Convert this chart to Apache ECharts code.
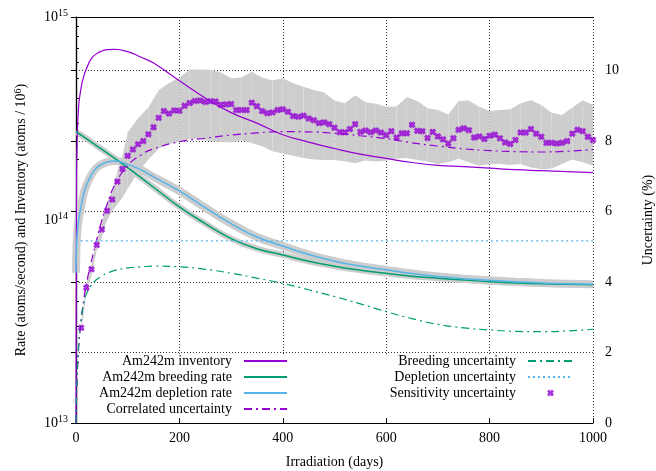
<!DOCTYPE html>
<html>
<head>
<meta charset="utf-8">
<title>Am242m rates, inventory and uncertainty</title>
<script src="https://cdn.jsdelivr.net/npm/echarts@6.0.0/dist/echarts.min.js"></script>
<style>
  html, body { margin: 0; padding: 0; background: #fff; }
  #chart { width: 656px; height: 471px; }
</style>
</head>
<body>
<div id="chart"></div>
<script>
const days = [0, 1, 2, 5, 10, 15, 20, 30, 40, 50, 60, 75, 100, 125, 150,
  200, 250, 300, 350, 400, 450, 500, 550, 600, 650, 700, 750, 800, 850, 900, 950, 1000];

// left axis (log): rates and inventory
const inventory = [1.0e13, 1.6e14, 2.3e14, 3.6e14, 4.5e14, 5.1e14, 5.55e14, 6.25e14, 6.6e14, 6.8e14, 6.9e14, 6.93e14, 6.75e14, 6.35e14, 5.93e14,
  4.85e14, 3.99e14, 3.38e14, 3.0e14, 2.63e14, 2.42e14, 2.25e14, 2.11e14, 2.01e14, 1.92e14, 1.86e14, 1.83e14, 1.80e14, 1.77e14, 1.75e14, 1.73e14, 1.71e14];
const breeding = [2.72e14, 2.71e14, 2.70e14, 2.67e14, 2.62e14, 2.57e14, 2.52e14, 2.42e14, 2.32e14, 2.23e14, 2.14e14, 2.01e14, 1.81e14, 1.62e14, 1.45e14,
  1.16e14, 9.6e13, 8.1e13, 7.22e13, 6.73e13, 6.26e13, 5.92e13, 5.66e13, 5.46e13, 5.29e13, 5.17e13, 5.06e13, 4.97e13, 4.9e13, 4.85e13, 4.82e13, 4.8e13];
const depletion = [5.5e13, 7.3e13, 8.3e13, 1.0e14, 1.17e14, 1.35e14, 1.48e14, 1.67e14, 1.81e14, 1.88e14, 1.93e14, 1.95e14, 1.88e14, 1.77e14, 1.63e14,
  1.39e14, 1.15e14, 9.6e13, 8.25e13, 7.45e13, 6.76e13, 6.27e13, 5.93e13, 5.68e13, 5.45e13, 5.27e13, 5.14e13, 5.05e13, 4.97e13, 4.9e13, 4.85e13, 4.82e13];

// right axis (%): uncertainties
const correlatedUnc = [0, 0.5, 1.1, 2.1, 2.9, 3.5, 3.95, 4.6, 5.2, 5.75, 6.2, 6.75, 7.3, 7.6, 7.78,
  7.98, 8.08, 8.17, 8.23, 8.27, 8.26, 8.22, 8.15, 8.07, 7.95, 7.86, 7.78, 7.73, 7.70, 7.69, 7.71, 7.76];
const breedingUnc = [0, 0.8, 1.3, 2.2, 2.95, 3.4, 3.65, 3.92, 4.07, 4.17, 4.25, 4.33, 4.40, 4.43, 4.45,
  4.43, 4.36, 4.25, 4.11, 3.96, 3.78, 3.59, 3.38, 3.16, 2.96, 2.80, 2.70, 2.64, 2.60, 2.59, 2.61, 2.66];
const depletionUncDays = [0, 1000];
const depletionUnc = [5.17, 5.17];

// sensitivity points, one every 10 days
const sensDays = Array.from({ length: 100 }, (_, i) => 10 * (i + 1));
const sensUnc = [2.70, 3.84, 4.36, 5.05, 5.49, 6.02, 6.34, 6.85, 7.21, 7.58,
  7.76, 7.91, 8.00, 8.19, 8.39, 8.66, 8.85, 8.78, 8.87, 8.86,
  9.00, 9.08, 9.14, 9.15, 9.11, 9.13, 9.12, 9.03, 9.04, 9.05,
  8.88, 8.88, 8.88, 9.09, 8.99, 8.85, 8.79, 8.81, 8.88, 8.90,
  8.83, 8.71, 8.69, 8.72, 8.64, 8.59, 8.51, 8.53, 8.48, 8.38,
  8.25, 8.25, 8.34, 8.48, 8.26, 8.30, 8.25, 8.30, 8.24, 8.17,
  8.28, 8.10, 8.22, 8.22, 8.46, 8.29, 8.28, 8.09, 8.26, 8.13,
  8.05, 7.93, 8.08, 8.32, 8.36, 8.31, 8.10, 8.13, 8.06, 8.15,
  8.18, 8.08, 7.96, 7.92, 8.03, 8.24, 8.24, 8.34, 8.21, 8.12,
  7.95, 7.95, 7.93, 7.95, 8.00, 8.21, 8.32, 8.28, 8.12, 8.03];

// grey envelope around the sensitivity points
const bandDays = [10, 20, 30, 40, 50, 60, 70, 80, 90, 100,
  120, 140, 160, 180, 200, 220, 240, 260, 280, 300, 320, 340, 360, 380, 400,
  420, 440, 460, 480, 500, 520, 540, 560, 580, 600, 620, 640, 660, 680, 700,
  720, 740, 760, 780, 800, 820, 840, 860, 880, 900, 920, 940, 960, 980, 1000];
const bandHigh = [2.82, 3.97, 4.5, 5.2, 5.68, 6.25, 6.6, 7.15, 7.6, 8.25,
  8.65, 8.95, 9.45, 9.65, 9.8, 10.03, 10.03, 10.02, 9.95, 9.78, 9.8, 9.97, 9.8, 9.72, 9.78,
  9.64, 9.54, 9.45, 9.38, 9.15, 9.07, 9.3, 9.1, 9.06, 8.97, 8.98, 9.25, 9.14, 8.93, 8.88,
  8.75, 9.14, 9.15, 8.97, 8.85, 8.88, 8.9, 9.07, 9.16, 9.02, 8.8, 8.74, 8.95, 9.16, 9.02];
const bandLow = [2.58, 3.7, 4.2, 4.88, 5.28, 5.75, 6.02, 6.2, 6.4, 6.65,
  7.12, 7.48, 7.78, 7.92, 7.98, 8.05, 8.05, 8.0, 7.98, 7.96, 8.02, 7.94, 7.85, 7.71, 7.65,
  7.58, 7.52, 7.48, 7.46, 7.46, 7.43, 7.37, 7.45, 7.42, 7.44, 7.5, 7.52, 7.46, 7.42, 7.35,
  7.4, 7.5, 7.4, 7.3, 7.35, 7.35, 7.32, 7.35, 7.25, 7.2, 7.22, 7.35, 7.48, 7.4, 7.3];

// minor ticks of the log axis
const minorTicks = [2e13, 3e13, 4e13, 5e13, 6e13, 7e13, 8e13, 9e13,
  2e14, 3e14, 4e14, 5e14, 6e14, 7e14, 8e14, 9e14];

const font = 'Liberation Serif';
const purple = '#9400d3';
const green = '#009e73';
const blue = '#56b4e9';
const grey = '#cdcdcd';
const crossPath = 'path://M0,3 L3,0 L5,2 L7,0 L10,3 L8,5 L10,7 L7,10 L5,8 L3,10 L0,7 L2,5 Z';
const smoothness = 0.5;

function pairs(xs, ys) {
  return xs.map((x, i) => [x, ys[i]]);
}

const chart = echarts.init(document.getElementById('chart'));

function lineSeries(name, ys, color, width, dash, yAxisIndex, xs) {
  return {
    name: name,
    type: 'line',
    yAxisIndex: yAxisIndex,
    data: pairs(xs || days, ys),
    showSymbol: false,
    smooth: smoothness,
    itemStyle: { color: color },
    lineStyle: { color: color, width: width, type: dash || 'solid' },
    z: 3
  };
}

// legend entries for lines: no marker in the sample
function lineKey(name) {
  return { name: name, itemStyle: { opacity: 0 } };
}

const axisLine = { show: true, lineStyle: { color: '#000', width: 1.2 } };
const gridLine = { show: true, lineStyle: { color: '#000', width: 0.8, type: [1, 2] } };
const labelStyle = { fontFamily: font, fontSize: 14, color: '#000' };
const keyText = Object.assign({ lineHeight: 16, padding: [0, 7, 0, 0] }, labelStyle);

chart.setOption({
  animation: false,
  textStyle: { fontFamily: font, color: '#000' },
  grid: { left: 76, right: 63, top: 17, bottom: 48, containLabel: false, outerBoundsMode: 'none' },
  xAxis: [
    {
      type: 'value', min: 0, max: 1000, interval: 200, position: 'bottom',
      name: 'Irradiation (days)', nameLocation: 'middle', nameGap: 32, nameMoveOverlap: false,
      nameTextStyle: labelStyle,
      axisLine: axisLine,
      axisTick: { inside: true, length: 5, lineStyle: { color: '#000' } },
      axisLabel: Object.assign({ margin: 8, formatter: v => String(v) }, labelStyle),
      splitLine: gridLine
    },
    {
      type: 'value', min: 0, max: 1000, position: 'top',
      axisLine: axisLine, axisTick: { show: false }, axisLabel: { show: false }, splitLine: { show: false }
    }
  ],
  yAxis: [
    {
      type: 'log', logBase: 10, min: 1e13, max: 1e15, position: 'left',
      name: 'Rate (atoms/second) and Inventory (atoms / 10{sup|6})',
      nameLocation: 'middle', nameRotate: 90, nameGap: 46, nameMoveOverlap: false,
      nameTextStyle: Object.assign({
        rich: { sup: { fontFamily: font, fontSize: 10, color: '#000', padding: [0, 0, 7, 0] } }
      }, labelStyle),
      axisLine: axisLine,
      axisTick: { inside: true, length: 6, lineStyle: { color: '#000' } },
      axisLabel: Object.assign({
        margin: 8,
        formatter: v => '10{sup|' + Math.round(Math.log10(v)) + '}',
        rich: { sup: { fontFamily: font, fontSize: 10, color: '#000', padding: [0, 0, 7, 0] } }
      }, labelStyle),
      splitLine: { show: false }
    },
    {
      type: 'value', min: 0, max: 11.52, interval: 2, position: 'right',
      name: 'Uncertainty (%)', nameLocation: 'middle', nameRotate: 90, nameGap: 48, nameMoveOverlap: false,
      nameTextStyle: labelStyle,
      axisLine: axisLine,
      axisTick: { inside: true, length: 5, lineStyle: { color: '#000' } },
      axisLabel: Object.assign({
        margin: 12,
        formatter: v => (v % 2 === 0 && v <= 10 ? String(v) : '')
      }, labelStyle),
      splitLine: gridLine
    },
    {
      // carries only the minor ticks of the log axis
      type: 'value', min: 13, max: 15, position: 'left',
      axisLine: { show: false },
      axisLabel: { show: false },
      splitLine: { show: false },
      axisTick: { show: true, inside: true, length: 3, lineStyle: { color: '#000' },
        customValues: minorTicks.map(Math.log10) }
    }
  ],
  // opaque key background, as in the original plot
  graphic: [{
    type: 'rect', z: 4, silent: true,
    shape: { x: 81, y: 354, width: 511, height: 63 },
    style: { fill: '#fff' }
  }],
  legend: [
    {
      data: ['Am242m inventory', 'Am242m breeding rate', 'Am242m depletion rate', 'Correlated uncertainty'].map(lineKey),
      orient: 'vertical', align: 'right', right: 368, top: 353, padding: 0, z: 5,
      itemGap: 0, itemWidth: 43, itemHeight: 8, selectedMode: false,
      textStyle: keyText
    },
    {
      data: [lineKey('Breeding uncertainty'), lineKey('Depletion uncertainty'), 'Sensitivity uncertainty'],
      orient: 'vertical', align: 'right', right: 82, top: 353, padding: 0, z: 5,
      itemGap: 0, itemWidth: 45, itemHeight: 7, selectedMode: false,
      textStyle: keyText
    }
  ],
  series: [
    {
      type: 'custom',
      yAxisIndex: 1,
      silent: true,
      z: 1,
      data: bandDays.map((d, i) => [d, bandLow[i], bandHigh[i]]),
      encode: { x: 0, y: [1, 2] },
      renderItem: function (params, api) {
        const i = params.dataIndexInside;
        if (i >= params.dataInsideLength - 1) return null;
        const lo0 = api.coord([api.value(0, i), api.value(1, i)]);
        const hi0 = api.coord([api.value(0, i), api.value(2, i)]);
        const lo1 = api.coord([api.value(0, i + 1), api.value(1, i + 1)]);
        const hi1 = api.coord([api.value(0, i + 1), api.value(2, i + 1)]);
        return {
          type: 'polygon',
          shape: { points: [lo0, lo1, hi1, hi0] },
          style: { fill: grey }
        };
      }
    },
    // grey halos behind the two rates
    {
      type: 'line', yAxisIndex: 0, data: pairs(days, depletion), showSymbol: false,
      smooth: smoothness, silent: true, z: 2,
      lineStyle: { color: grey, width: 8 }
    },
    {
      type: 'line', yAxisIndex: 0, data: pairs(days, breeding), showSymbol: false,
      smooth: smoothness, silent: true, z: 2,
      lineStyle: { color: grey, width: 6 }
    },
    lineSeries('Am242m inventory', inventory, purple, 1.2, null, 0),
    lineSeries('Am242m breeding rate', breeding, green, 1.5, null, 0),
    lineSeries('Am242m depletion rate', depletion, blue, 1.5, null, 0),
    lineSeries('Correlated uncertainty', correlatedUnc, purple, 1.2, [8, 4, 2, 4], 1),
    lineSeries('Breeding uncertainty', breedingUnc, green, 1.2, [8, 4, 2, 4], 1),
    lineSeries('Depletion uncertainty', depletionUnc, blue, 1.2, [2, 3], 1, depletionUncDays),
    {
      name: 'Sensitivity uncertainty',
      type: 'scatter',
      yAxisIndex: 1,
      data: pairs(sensDays, sensUnc),
      symbol: crossPath,
      symbolSize: 7,
      itemStyle: { color: purple },
      z: 3
    }
  ]
});
</script>
</body>
</html>
